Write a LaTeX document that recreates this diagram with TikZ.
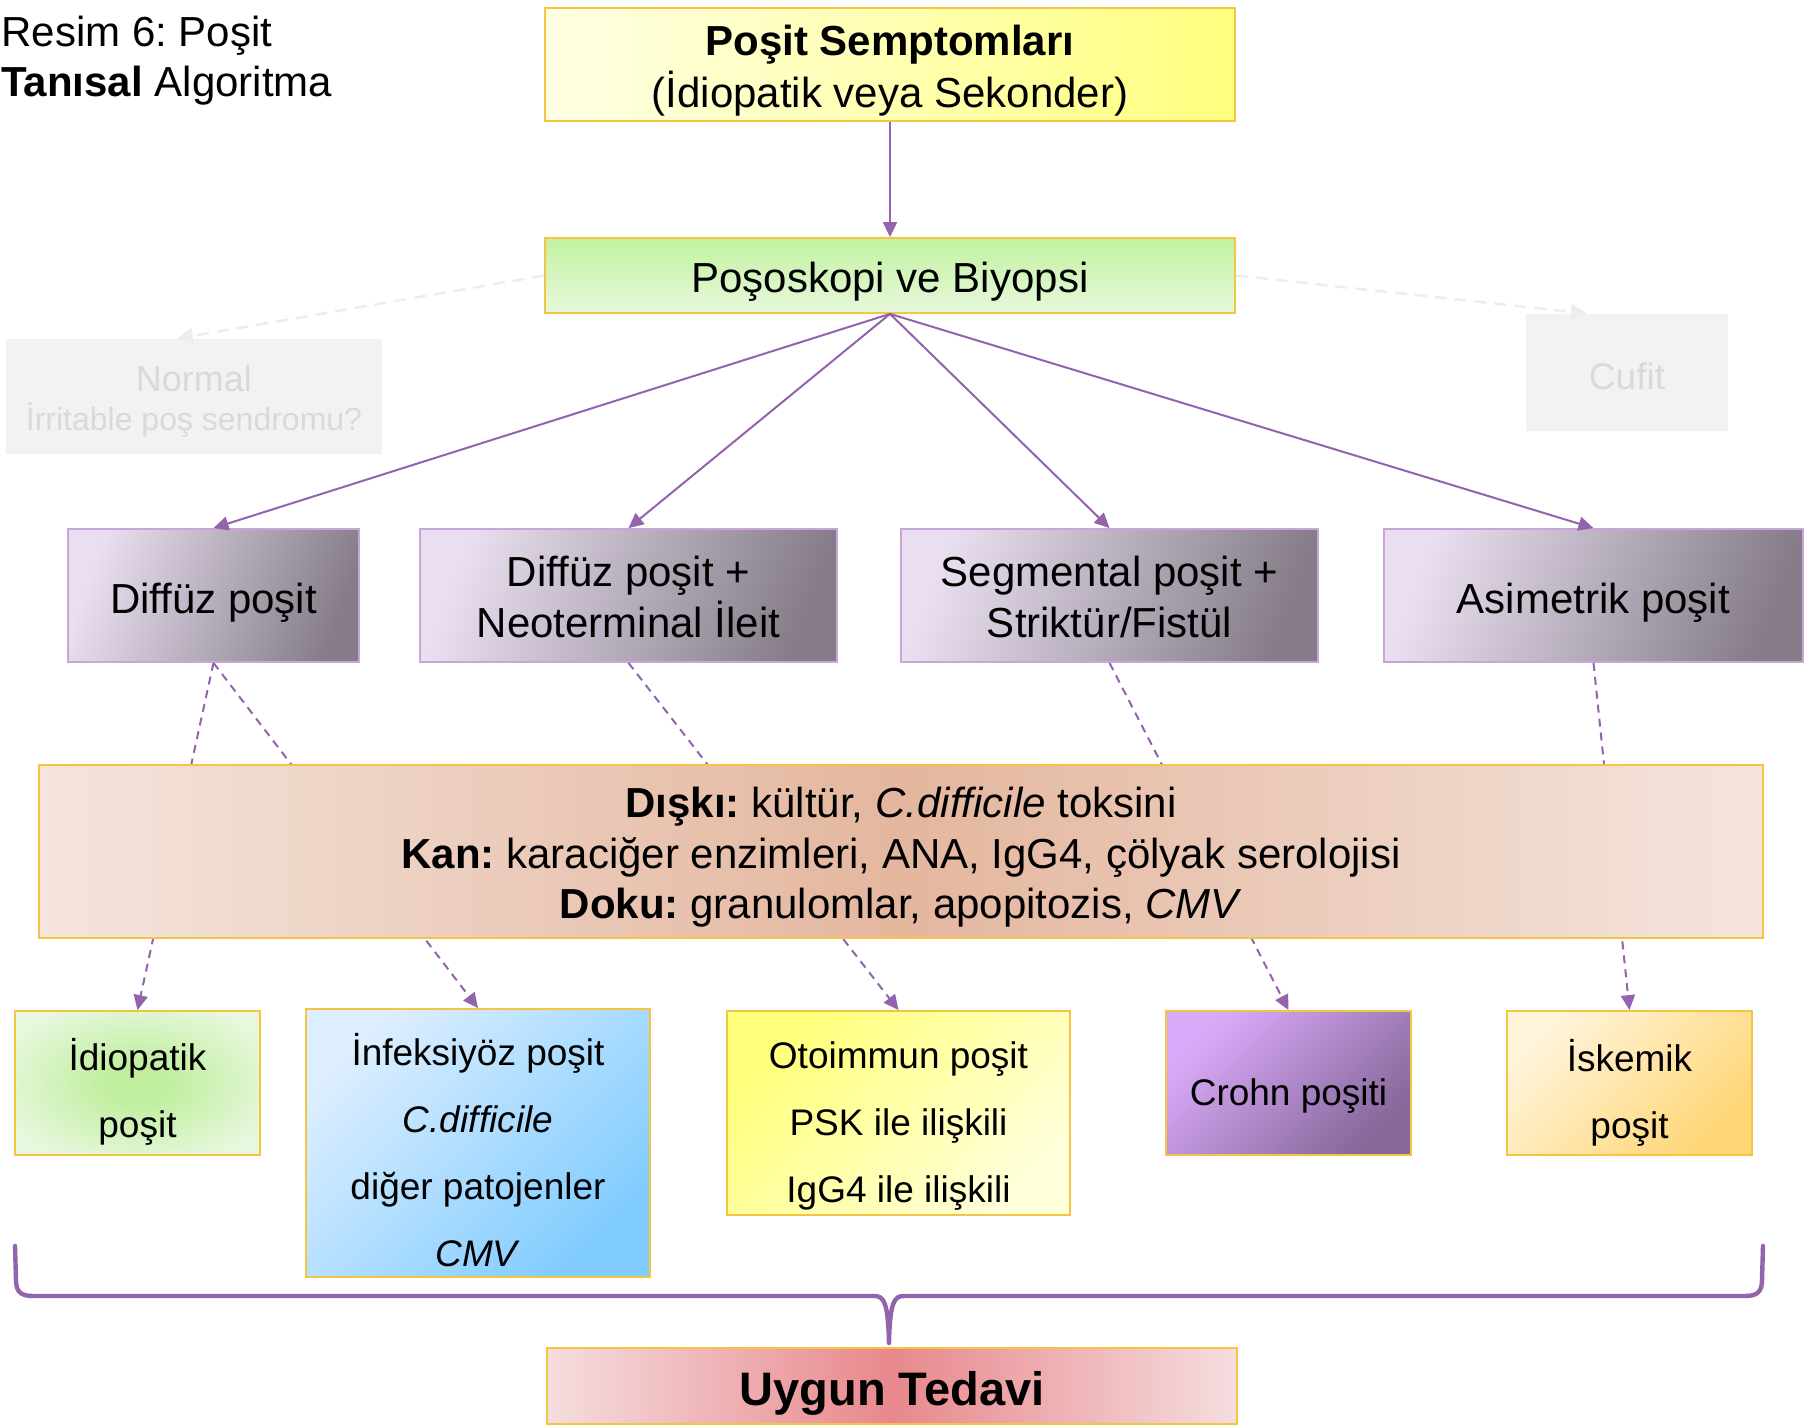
\documentclass[tikz,border=0pt]{standalone}
\usepackage{fontspec}
\setmainfont{Liberation Sans}
\frenchspacing
\usetikzlibrary{arrows.meta}
\definecolor{lila}{HTML}{9463AD}
\definecolor{goldb}{HTML}{F6C443}
\definecolor{lilab}{HTML}{C9A6DA}
\definecolor{grayf}{HTML}{F2F2F2}
\definecolor{grayt}{HTML}{D9D9D9}
\definecolor{grayl}{HTML}{EDEDED}
\definecolor{ytopL}{HTML}{FFFFE4}
\definecolor{ytopR}{HTML}{FFFF7F}
\definecolor{gTop}{HTML}{C2F2A0}
\definecolor{gBot}{HTML}{E7F8DC}
\definecolor{rL}{HTML}{E9DFF0}
\definecolor{rR}{HTML}{867D89}
\definecolor{bigE}{HTML}{F4E5DD}
\definecolor{bigM}{HTML}{E4B69E}
\definecolor{idIn}{HTML}{C0EE9E}
\definecolor{idOut}{HTML}{E8F8DF}
\definecolor{infA}{HTML}{DCEEFF}
\definecolor{infB}{HTML}{80CCFF}
\definecolor{otoA}{HTML}{FFFF7A}
\definecolor{otoB}{HTML}{FFFFDA}
\definecolor{croA}{HTML}{DAAAFA}
\definecolor{croB}{HTML}{86689A}
\definecolor{iskA}{HTML}{FFF4DA}
\definecolor{iskB}{HTML}{FFD676}
\definecolor{uyE}{HTML}{F5DDDF}
\definecolor{uyM}{HTML}{E8888C}
\pgfdeclareradialshading{idrad}{\pgfpoint{0bp}{0bp}}{%
  color(0bp)=(idIn); color(6bp)=(idIn); color(30bp)=(idOut); color(50bp)=(idOut)}
\newcommand\dn[2]{\raisebox{#1}[\height][\depth]{\begin{tabular}{@{}c@{}}#2\end{tabular}}}
\begin{document}
\begin{tikzpicture}[x=0.5pt,y=-0.5pt,
  box/.style={draw=goldb, line width=0.9pt, inner sep=0pt, align=center, text=black},
  rowbox/.style={draw=lilab, line width=0.9pt, inner sep=0pt, align=center, text=black,
     shading=axis, top color=rL, bottom color=rR, shading angle=70,
     minimum height=66.5pt, font=\fontsize{21}{25.5}\selectfont},
  botfont/.style={font=\fontsize{18.5}{33.5}\selectfont},
  solidarrow/.style={draw=lila, line width=1pt, -{Triangle[length=7.5pt,width=7pt]}},
  dasharrow/.style={draw=lila, line width=1pt, dash pattern=on 4pt off 3pt, -{Triangle[length=7.5pt,width=7pt]}},
  grayarrow/.style={draw=grayl, line width=1.2pt, dash pattern=on 6pt off 4pt, -{Triangle[length=8pt,width=8pt]}}
]
\fill[white] (0,0) rectangle (1806,1428);
\useasboundingbox (0,0) rectangle (1806,1428);

% title
\node[anchor=north west, inner sep=0pt, align=left, font=\fontsize{21}{25}\selectfont] (title) at (1,16)
  {Resim 6: Poşit\\\textbf{Tanısal} Algoritma};

% top boxes
\node[box, minimum width=345pt, minimum height=56.5pt, shading=axis, left color=ytopL, right color=ytopR,
  font=\fontsize{21}{25}\selectfont] (top) at (890,64.5)
  {\dn{-3.45pt}{\textbf{Poşit Semptomları}\\(İdiopatik veya Sekonder)}};
\node[box, minimum width=345pt, minimum height=37.5pt, shading=axis, top color=gTop, bottom color=gBot,
  font=\fontsize{21}{25}\selectfont] (endo) at (890,275.5) {\dn{-3.35pt}{Poşoskopi ve Biyopsi}};

% faded side boxes
\node[fill=grayf, inner sep=0pt, minimum width=188pt, minimum height=57.5pt, align=center, text=grayt,
  font=\fontsize{16}{18.5}\selectfont] (normal) at (194,396.5)
  {\dn{-3.45pt}{{\fontsize{18}{18.5}\selectfont Normal}\\İrritable poş sendromu?}};
\node[fill=grayf, inner sep=0pt, minimum width=101pt, minimum height=58.5pt, text=grayt,
  font=\fontsize{18.5}{20}\selectfont] (cufit) at (1627,372.5) {\dn{-4.45pt}{Cufit}};

% row 2
\node[rowbox, minimum width=145.5pt] (r1) at (213.5,595.5) {\dn{-3.7pt}{Diffüz poşit}};
\node[rowbox, minimum width=208.5pt] (r2) at (628.5,595.5) {\dn{-3.2pt}{Diffüz poşit +\\Neoterminal İleit}};
\node[rowbox, minimum width=208.5pt] (r3) at (1109.5,595.5) {\dn{-3.2pt}{Segmental poşit +\\Striktür/Fistül}};
\node[rowbox, minimum width=209.5pt] (r4) at (1593.5,595.5) {\dn{-3.7pt}{Asimetrik poşit}};

% bottom row
\node[box, botfont, minimum width=122.5pt, minimum height=72pt, shading=idrad]
  (b1) at (137.5,1083) {\dn{-4pt}{İdiopatik\\poşit}};
\node[box, botfont, minimum width=172pt, minimum height=132pt, shading=axis, top color=infA, bottom color=infB, shading angle=45]
  (b2) at (478,1143) {\dn{-5pt}{İnfeksiyöz poşit\\\textit{C.difficile}\\diğer patojenler\\\textit{CMV}}};
\node[box, botfont, minimum width=171.5pt, minimum height=102pt, shading=axis, top color=otoA, bottom color=otoB, shading angle=45]
  (b3) at (898.5,1113) {\dn{-4.7pt}{Otoimmun poşit\\PSK ile ilişkili\\IgG4 ile ilişkili}};
\node[box, botfont, minimum width=122.5pt, minimum height=72pt, shading=axis, top color=croA, bottom color=croB, shading angle=45]
  (b4) at (1288.5,1083) {\dn{-4.7pt}{Crohn poşiti}};
\node[box, botfont, minimum width=122.5pt, minimum height=72pt, shading=axis, top color=iskA, bottom color=iskB, shading angle=45]
  (b5) at (1629.5,1083) {\dn{-4.5pt}{İskemik\\poşit}};

% final box
\node[box, minimum width=345pt, minimum height=38pt, shading=axis, left color=uyE, right color=uyE, middle color=uyM,
  font=\fontsize{23.5}{25}\selectfont\bfseries] (tedavi) at (892,1386) {\dn{-4.9pt}{Uygun Tedavi}};

% connectors
\draw[solidarrow] (top.south) -- (endo.north);
\draw[solidarrow] (endo.south) -- (r1.north);
\draw[solidarrow] (endo.south) -- (r2.north);
\draw[solidarrow] (endo.south) -- (r3.north);
\draw[solidarrow] (endo.south) -- (r4.north);
\draw[grayarrow] (endo.west) -- ([xshift=-8.5pt]normal.north);
\draw[grayarrow] (endo.east) -- ([xshift=-20pt]cufit.north);

\draw[dasharrow] (r1.south) -- (b1.north);
\draw[dasharrow] (r1.south) -- (b2.north);
\draw[dasharrow] (r2.south) -- (b3.north);
\draw[dasharrow] (r3.south) -- (b4.north);
\draw[dasharrow] (r4.south) -- (b5.north);

% tests box (drawn over the dashed lines)
\node[box, minimum width=862pt, minimum height=86.5pt, shading=axis, left color=bigE, right color=bigE, middle color=bigM,
  font=\fontsize{21}{25.3}\selectfont] (tests) at (901,851.5)
  {\dn{-3.3pt}{\textbf{Dışkı:} kültür, \textit{C.difficile} toksini\\
   \textbf{Kan:} karaciğer enzimleri, ANA, IgG4, çölyak serolojisi\\
   \textbf{Doku:} granulomlar, apopitozis, \textit{CMV}}};

% brace gathering the diagnoses
\coordinate (braceTip) at (889,1343);
\draw[lila, line width=2.2pt, line cap=round, line join=round]
  (15,1246) -- (16,1280) .. controls (16,1292) and (21,1296) .. (33,1296)
  -- (874,1296) .. controls (884,1296) and (888,1302) .. (braceTip)
  .. controls (890,1302) and (894,1296) .. (904,1296)
  -- (1745,1296) .. controls (1757,1296) and (1762,1292) .. (1762,1280) -- (1763,1246);
\end{tikzpicture}
\end{document}
